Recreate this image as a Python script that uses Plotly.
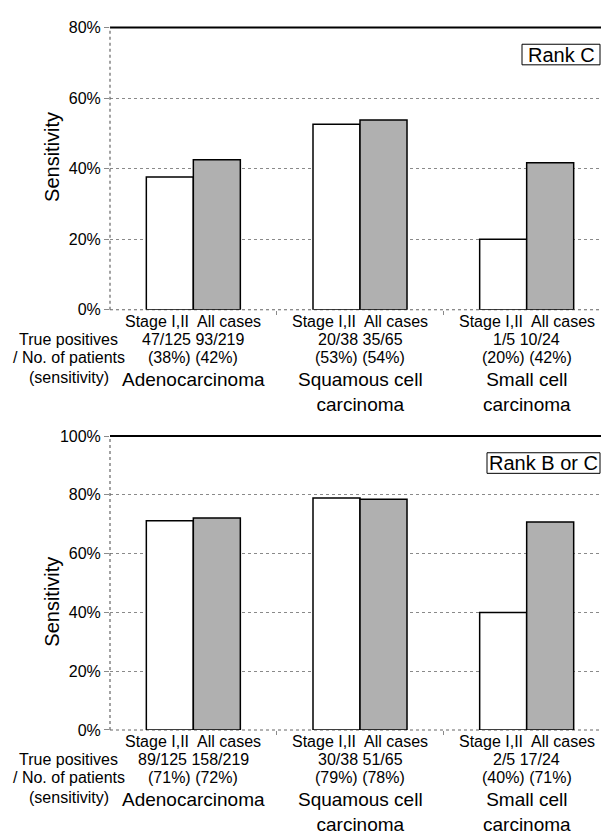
import plotly.graph_objects as go

# ---- data ----
categories = ["Adenocarcinoma", "Squamous cell carcinoma", "Small cell carcinoma"]
cat_labels = ["Adenocarcinoma", "Squamous cell<br>carcinoma", "Small cell<br>carcinoma"]
series_names = ["Stage I,II", "All cases"]

rankC_stage = [37.6, 52.6, 20.0]
rankC_all = [42.5, 53.8, 41.7]
rankC_stage_frac = ["47/125", "20/38", "1/5"]
rankC_all_frac = ["93/219", "35/65", "10/24"]
rankC_stage_pct = ["(38%)", "(53%)", "(20%)"]
rankC_all_pct = ["(42%)", "(54%)", "(42%)"]

rankBC_stage = [71.2, 78.9, 40.0]
rankBC_all = [72.1, 78.5, 70.8]
rankBC_stage_frac = ["89/125", "30/38", "2/5"]
rankBC_all_frac = ["158/219", "51/65", "17/24"]
rankBC_stage_pct = ["(71%)", "(79%)", "(40%)"]
rankBC_all_pct = ["(72%)", "(78%)", "(71%)"]

top_ticks = [0, 20, 40, 60, 80]
bot_ticks = [0, 20, 40, 60, 80, 100]

W, H = 601, 835
FONT = "Liberation Sans, Arial, sans-serif"
GRAY = "#b0b0b0"
GRID = "#8a8a8a"

def py(px):
    return 1 - px / H

fig = go.Figure()

BW = 0.282
panels = [
    dict(ax="", stage=rankC_stage, allv=rankC_all, sf=rankC_stage_frac, af=rankC_all_frac,
         sp=rankC_stage_pct, ap=rankC_all_pct, top=20, zero=308, ymax=80, ticks=top_ticks,
         rank="Rank C", box_x0=522, title_y=152),
    dict(ax="2", stage=rankBC_stage, allv=rankBC_all, sf=rankBC_stage_frac, af=rankBC_all_frac,
         sp=rankBC_stage_pct, ap=rankBC_all_pct, top=437, zero=737, ymax=100, ticks=bot_ticks,
         rank="Rank B or C", box_x0=487, title_y=606),
]

annotations = []
shapes = []

def txt(x, y, text, size=16, xref="paper", **kw):
    d = dict(x=x, y=y, xref=xref, yref="paper", showarrow=False, text=text,
             xanchor="center", yanchor="middle", font=dict(size=size, family=FONT, color="black"))
    d.update(kw)
    return d

for p in panels:
    xa = "x" + p["ax"]
    ya = "y" + p["ax"]
    fig.add_trace(go.Bar(x=categories, y=p["stage"], name=series_names[0], width=BW, offset=-BW,
                         marker=dict(color="white", line=dict(color="black", width=1.5)),
                         xaxis=xa, yaxis=ya, showlegend=False))
    fig.add_trace(go.Bar(x=categories, y=p["allv"], name=series_names[1], width=BW, offset=0,
                         marker=dict(color=GRAY, line=dict(color="black", width=1.5)),
                         xaxis=xa, yaxis=ya, showlegend=False))
    z = p["zero"]
    for i in range(3):
        annotations.append(txt(i, py(z + 12), "Stage I,II  All cases", xref=xa))
        annotations.append(txt(i, py(z + 30.5), f"{p['sf'][i]} {p['af'][i]}", xref=xa))
        annotations.append(txt(i, py(z + 49), f"{p['sp'][i]} {p['ap'][i]}", xref=xa))
        annotations.append(txt(i, py(z + 58), cat_labels[i], size=19, xref=xa, yanchor="top"))
    for k, t in enumerate(["True positives", "/ No. of patients", "(sensitivity)"]):
        annotations.append(txt(68.5 / W, py(z + [30.5, 49, 69][k]), t))
    annotations.append(txt(52 / W, py(p["title_y"]), "Sensitivity", size=20, textangle=-90))
    # rank label box
    bx0, bx1 = p["box_x0"], 600
    by0, by1 = p["top"] + 17, p["top"] + 38
    shapes.append(dict(type="rect", xref="paper", yref="paper", x0=bx0 / W, x1=bx1 / W,
                       y0=py(by1), y1=py(by0), line=dict(color="black", width=1), fillcolor="white"))
    annotations.append(txt((bx0 + bx1) / 2 / W, py((by0 + by1) / 2), p["rank"], size=20))
    # frame lines
    shapes.append(dict(type="line", xref=xa + " domain", yref=ya + " domain", x0=0, x1=1, y0=1, y1=1,
                       line=dict(color="black", width=2)))
    shapes.append(dict(type="line", xref=xa + " domain", yref=ya + " domain", x0=0, x1=0, y0=0, y1=1,
                       line=dict(color="#666", width=1.2, dash="dot")))
    shapes.append(dict(type="line", xref=xa + " domain", yref=ya + " domain", x0=0, x1=1, y0=0, y1=0,
                       line=dict(color="#666", width=1.2, dash="dot"), layer="below"))

xdom = [110 / W, 1]
xrange = [-0.5, -0.5 + (W - 110) / 166.67]
common_x = dict(domain=xdom, range=xrange, type="category", showgrid=False, zeroline=False,
                showline=False, tickmode="array", tickvals=[0.5, 1.5], ticktext=["", ""],
                ticks="outside", ticklen=4, tickcolor=GRID, showticklabels=False)

def yax(p, anchor):
    return dict(domain=[py(p["zero"]), py(p["top"])], range=[0, p["ymax"]], tickmode="array",
                tickvals=p["ticks"], ticktext=[f"{v}%" for v in p["ticks"]],
                showgrid=True, gridcolor=GRID, griddash="dot", gridwidth=1,
                zeroline=False, showline=False, ticks="outside", ticklen=5, tickcolor=GRID,
                tickfont=dict(size=16, family=FONT, color="black"), anchor=anchor)

fig.update_layout(
    width=W, height=H, margin=dict(l=0, r=0, t=0, b=0),
    paper_bgcolor="white", plot_bgcolor="white",
    barmode="overlay", showlegend=False,
    xaxis=dict(common_x, anchor="y"),
    xaxis2=dict(common_x, anchor="y2"),
    yaxis=yax(panels[0], "x"),
    yaxis2=yax(panels[1], "x2"),
    annotations=annotations, shapes=shapes,
    font=dict(family=FONT, color="black"),
)

fig.write_html("out.html")
